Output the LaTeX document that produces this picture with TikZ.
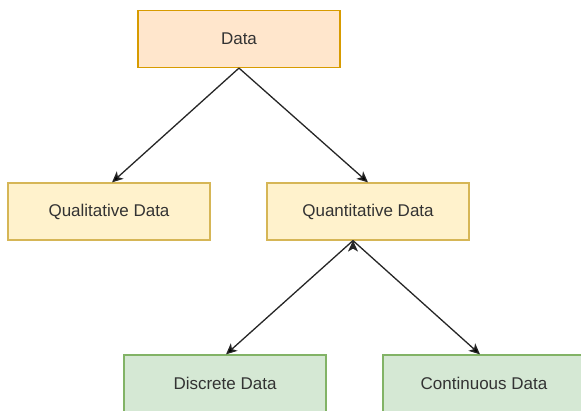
\documentclass[tikz,border=0pt]{standalone}
\usepackage{fontspec}
\setmainfont{Liberation Sans}
\usepackage{xcolor}
\usetikzlibrary{positioning, arrows.meta}

\definecolor{orangefill}{HTML}{FFE6CC}
\definecolor{orangeline}{HTML}{D79B00}
\definecolor{yellowfill}{HTML}{FFF2CC}
\definecolor{yellowline}{HTML}{D6B656}
\definecolor{greenfill}{HTML}{D5E8D4}
\definecolor{greenline}{HTML}{82B366}
\definecolor{textgray}{HTML}{333333}

\begin{document}
\begin{tikzpicture}[
        x=1pt, y=-1pt,
        on grid,
        >={Stealth[length=11pt, width=10pt, inset=3pt]},
        box/.style={draw, line width=1.2pt, minimum width=202pt,
          minimum height=57pt, inner sep=0pt, text=textgray,
          font=\fontsize{17}{20}\selectfont},
        rootbox/.style={box, fill=orangefill, draw=orangeline},
        midbox/.style={box, fill=yellowfill, draw=yellowline},
        leafbox/.style={box, fill=greenfill, draw=greenline},
      ]

      \useasboundingbox (0,0) rectangle (581,411);

      \node[rootbox] (data) at (239,39) {Data};

      \node[midbox, below left=172.5pt and 130pt of data] (qual) {Qualitative Data};
      \node[midbox, right=259pt of qual] (quant) {Quantitative Data};

      \node[leafbox, below left=172pt and 143pt of quant] (disc) {Discrete Data};
      \node[leafbox, right=259pt of disc] (cont) {Continuous Data};

      \path[->, line width=1.3pt, draw=black!85]
      (data.south) edge ([xshift=3pt]qual.north)
      (data.south) edge (quant.north)
      ([xshift=-15pt]quant.south) edge ([xshift=1pt]disc.north)
      ([xshift=-15pt]quant.south) edge ([xshift=-4pt]cont.north);

    \end{tikzpicture}
\end{document}
